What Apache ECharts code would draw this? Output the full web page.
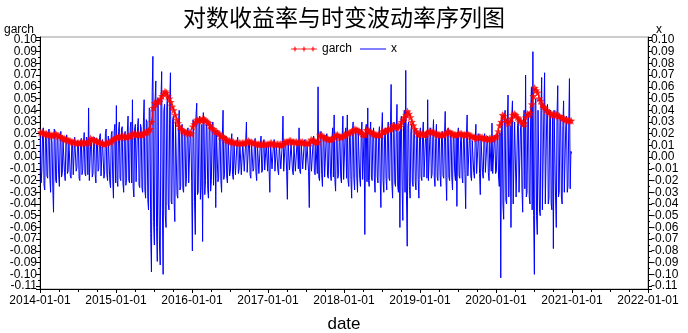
<!DOCTYPE html>
<html>
<head>
<meta charset="utf-8">
<title>对数收益率与时变波动率序列图</title>
<script src="https://cdn.jsdelivr.net/npm/echarts@6/dist/echarts.min.js"></script>
<style>
    html, body { margin: 0; padding: 0; background: #fff; }
    #main { width: 688px; height: 333px; }
</style>
</head>
<body>
<div id="main"></div>
<script>
//对数收益率 x（读图估计，每年104个，约半周一个）
var x2014 = [0.018,-0.022,-0.012,0.02,0.025,-0.024,-0.028,0.018,0.021,-0.016,
    -0.018,0.022,0.024,-0.018,-0.03,0.02,0.012,-0.026,-0.047,0.024,
    0.02,-0.02,-0.022,0.018,0.016,-0.015,-0.025,0.013,0.022,-0.017,
    -0.014,0.015,0.015,-0.013,-0.02,0.016,0.019,-0.014,-0.012,0.014,
    0.013,-0.016,-0.018,0.012,0.01,-0.015,-0.015,0.017,0.018,-0.012,
    -0.009,0.014,0.012,-0.018,-0.02,0.013,0.016,-0.015,-0.011,0.012,
    0.021,-0.014,-0.016,0.017,0.014,-0.015,0.042,-0.02,-0.019,0.015,
    0.011,-0.017,-0.014,0.013,0.017,-0.015,-0.022,0.016,0.012,-0.012,
    -0.01,0.017,0.02,-0.016,-0.017,0.015,0.015,-0.018,-0.012,0.02,
    0.024,-0.015,-0.02,0.018,0.018,-0.021,-0.026,0.019,0.022,-0.018,
    -0.035,0.022,0.028,-0.022];
var x2015 = [0.044,-0.02,-0.025,0.022,0.03,-0.018,-0.02,0.024,0.026,-0.022,
    -0.03,0.018,0.022,-0.024,-0.018,0.021,0.035,-0.02,-0.022,0.025,
    0.03,-0.022,0.049,-0.026,-0.034,0.024,0.028,-0.021,-0.02,0.026,
    0.033,-0.024,-0.026,0.028,0.025,-0.026,-0.03,0.03,0.049,-0.028,
    -0.035,0.032,0.03,-0.036,-0.045,0.042,0.04,-0.065,-0.098,0.055,
    0.086,-0.055,-0.075,0.048,0.065,-0.06,-0.089,0.05,0.05,-0.075,
    -0.092,0.048,0.073,-0.045,-0.1,0.04,0.045,-0.05,-0.06,0.042,
    0.055,-0.04,-0.045,0.046,0.072,-0.038,-0.04,0.032,0.035,-0.038,
    -0.055,0.03,0.03,-0.032,-0.035,0.027,0.04,-0.028,-0.025,0.025,
    0.028,-0.027,-0.03,0.022,0.02,-0.025,-0.018,0.021,0.025,-0.022,
    -0.022,0.02,0.018,-0.021];
var x2016 = [-0.08,0.032,0.02,-0.038,-0.066,0.036,0.046,-0.032,-0.03,0.03,
    0.035,-0.036,-0.025,0.028,-0.072,0.038,0.03,-0.032,-0.02,0.028,
    0.025,-0.027,-0.035,0.025,0.028,-0.029,-0.02,0.022,0.03,-0.024,
    -0.025,0.021,-0.043,0.022,0.022,-0.021,-0.018,0.018,0.02,-0.02,
    -0.03,0.017,0.04,-0.019,-0.015,0.016,0.018,-0.017,-0.022,0.015,
    0.015,-0.016,-0.012,0.014,0.02,-0.015,-0.019,0.013,0.014,-0.015,
    -0.015,0.012,0.017,-0.014,-0.01,0.012,0.012,-0.015,-0.016,0.013,
    0.013,-0.012,-0.012,0.014,0.03,-0.013,-0.012,0.012,0.015,-0.015,
    -0.018,0.013,0.012,-0.012,-0.01,0.014,0.016,-0.013,-0.02,0.012,
    0.012,-0.014,-0.013,0.012,0.018,-0.013,-0.011,0.012,0.015,-0.011,
    -0.01,0.012,0.012,-0.012];
var x2017 = [0.01,-0.011,-0.03,0.012,0.012,-0.01,-0.01,0.011,0.015,-0.012,
    -0.012,0.01,0.01,-0.011,-0.015,0.012,0.013,-0.01,-0.009,0.011,
    0.035,-0.012,-0.012,0.013,0.01,-0.012,-0.036,0.014,0.014,-0.011,
    -0.01,0.012,0.012,-0.011,-0.015,0.01,0.011,-0.012,-0.012,0.011,
    0.009,-0.01,0.025,-0.012,-0.014,0.011,0.012,-0.01,-0.01,0.012,
    0.015,-0.011,-0.012,0.01,0.01,-0.012,-0.043,0.013,0.013,-0.012,
    -0.012,0.011,0.018,-0.013,-0.015,0.012,0.012,-0.014,0.06,-0.017,
    -0.02,0.017,0.022,-0.015,-0.025,0.016,0.018,-0.017,-0.016,0.015,
    0.02,-0.016,-0.018,0.017,0.015,-0.015,-0.02,0.016,0.025,-0.017,
    0.036,-0.019,-0.029,0.017,0.02,-0.018,-0.015,0.016,0.018,-0.017,
    -0.022,0.018,0.035,-0.019];
var x2018 = [-0.02,0.019,0.025,-0.018,0.036,-0.02,-0.025,0.017,0.02,-0.019,
    -0.035,0.021,0.03,-0.018,-0.028,0.019,0.025,-0.017,-0.03,0.021,
    0.022,-0.018,-0.025,0.017,0.03,-0.019,-0.02,0.018,-0.066,0.024,
    0.028,-0.021,0.042,-0.02,-0.025,0.018,0.03,-0.017,-0.02,0.019,
    0.025,-0.017,-0.03,0.018,0.02,-0.017,-0.022,0.019,0.026,-0.018,
    -0.043,0.021,0.038,-0.02,-0.03,0.017,0.025,-0.018,-0.028,0.019,
    0.03,-0.018,-0.02,0.021,0.062,-0.022,-0.035,0.02,0.03,-0.022,
    -0.025,0.021,0.045,-0.025,-0.03,0.022,-0.06,0.027,0.035,-0.025,
    -0.054,0.027,0.04,-0.03,0.074,-0.033,-0.076,0.027,0.03,-0.025,
    -0.035,0.022,0.028,-0.021,-0.025,0.02,0.025,-0.021,-0.028,0.018,
    0.022,-0.019,-0.035,0.018];
var x2019 = [0.025,-0.017,-0.02,0.018,0.03,-0.017,-0.018,0.016,0.022,-0.018,
    0.049,-0.02,-0.02,0.017,0.025,-0.018,-0.015,0.017,0.032,-0.017,
    -0.025,0.016,0.028,-0.017,-0.02,0.018,0.02,-0.016,-0.025,0.017,
    0.022,-0.016,-0.018,0.017,0.039,-0.017,-0.037,0.02,0.025,-0.017,
    -0.02,0.016,0.022,-0.017,-0.028,0.016,0.018,-0.014,-0.02,0.017,
    -0.042,0.018,0.025,-0.016,-0.018,0.014,0.02,-0.017,-0.022,0.016,
    0.018,-0.014,-0.044,0.017,0.036,-0.016,-0.015,0.014,0.018,-0.016,
    -0.02,0.014,0.015,-0.013,-0.018,0.014,0.028,-0.014,-0.015,0.013,
    0.02,-0.014,-0.032,0.016,0.015,-0.013,-0.018,0.014,0.02,-0.013,
    -0.012,0.012,0.018,-0.013,-0.02,0.014,0.015,-0.012,0.029,-0.014,
    -0.015,0.013,0.018,-0.014];
var x2020 = [-0.012,0.015,0.02,-0.017,-0.025,0.021,-0.103,0.028,0.035,-0.04,
    -0.053,0.034,0.04,-0.037,-0.04,0.03,0.053,-0.034,-0.035,0.027,
    -0.06,0.034,0.048,-0.04,-0.04,0.03,0.03,-0.034,-0.035,0.027,
    0.032,-0.03,-0.03,0.025,0.028,-0.027,-0.047,0.03,0.04,-0.027,
    0.07,-0.034,-0.03,0.03,0.035,-0.034,-0.04,0.04,0.06,-0.045,
    0.09,-0.05,-0.1,0.045,0.05,-0.05,-0.066,0.04,0.04,-0.045,
    -0.05,0.04,0.068,-0.045,-0.045,0.04,0.072,-0.04,-0.04,0.037,
    0.045,-0.04,-0.035,0.034,0.04,-0.04,-0.045,0.034,-0.078,0.04,
    0.04,-0.034,-0.06,0.037,0.061,-0.034,-0.03,0.03,0.035,-0.034,
    -0.04,0.027,0.048,-0.03,-0.03,0.027,0.035,-0.03,-0.025,0.024,
    0.067,-0.027,0.005,0.003];

//garch 条件波动率（每年52个，按周）
var g2014 = [0.021,0.021,0.02,0.02,0.02,0.019,0.019,0.019,0.018,0.019,
    0.02,0.019,0.018,0.018,0.017,0.016,0.016,0.015,0.015,0.014,
    0.014,0.013,0.013,0.013,0.012,0.012,0.012,0.012,0.013,0.012,
    0.012,0.012,0.013,0.012,0.016,0.015,0.015,0.014,0.014,0.013,
    0.013,0.012,0.012,0.011,0.011,0.012,0.012,0.013,0.013,0.014,
    0.015,0.016];
var g2015 = [0.017,0.017,0.018,0.017,0.018,0.018,0.017,0.017,0.018,0.018,
    0.018,0.02,0.02,0.019,0.019,0.02,0.019,0.019,0.019,0.021,
    0.021,0.021,0.023,0.024,0.03,0.042,0.046,0.045,0.048,0.047,
    0.05,0.052,0.054,0.056,0.055,0.052,0.05,0.047,0.043,0.04,
    0.036,0.032,0.029,0.026,0.024,0.023,0.022,0.021,0.021,0.02,
    0.021,0.02];
var g2016 = [0.026,0.028,0.03,0.032,0.031,0.032,0.031,0.033,0.032,0.031,
    0.03,0.029,0.027,0.025,0.024,0.022,0.022,0.021,0.02,0.018,
    0.018,0.017,0.016,0.015,0.014,0.014,0.013,0.013,0.013,0.012,
    0.012,0.012,0.012,0.012,0.012,0.012,0.012,0.013,0.014,0.013,
    0.013,0.012,0.012,0.012,0.011,0.011,0.011,0.011,0.011,0.011,
    0.011,0.011];
var g2017 = [0.011,0.012,0.012,0.011,0.011,0.011,0.011,0.011,0.011,0.01,
    0.011,0.013,0.013,0.013,0.014,0.014,0.013,0.013,0.013,0.013,
    0.012,0.013,0.013,0.013,0.012,0.012,0.012,0.012,0.012,0.015,
    0.014,0.014,0.013,0.013,0.013,0.019,0.018,0.018,0.017,0.016,
    0.016,0.015,0.015,0.015,0.016,0.017,0.019,0.019,0.018,0.017,
    0.017,0.018];
var g2018 = [0.019,0.019,0.02,0.021,0.021,0.022,0.023,0.024,0.023,0.023,
    0.022,0.021,0.02,0.019,0.019,0.023,0.023,0.022,0.021,0.02,
    0.02,0.019,0.019,0.019,0.019,0.019,0.022,0.022,0.022,0.023,
    0.024,0.024,0.024,0.027,0.026,0.026,0.025,0.027,0.026,0.03,
    0.032,0.034,0.036,0.039,0.037,0.034,0.03,0.027,0.024,0.022,
    0.02,0.019];
var g2019 = [0.02,0.02,0.019,0.019,0.02,0.021,0.022,0.022,0.021,0.021,
    0.02,0.02,0.019,0.019,0.019,0.019,0.019,0.02,0.021,0.022,
    0.021,0.02,0.02,0.019,0.019,0.019,0.02,0.02,0.02,0.019,
    0.019,0.019,0.02,0.019,0.018,0.018,0.017,0.017,0.016,0.017,
    0.017,0.017,0.017,0.016,0.016,0.016,0.015,0.016,0.016,0.015,
    0.016,0.017];
var g2020 = [0.018,0.022,0.027,0.03,0.036,0.035,0.032,0.03,0.029,0.03,
    0.033,0.036,0.037,0.036,0.034,0.033,0.031,0.03,0.028,0.029,
    0.034,0.037,0.036,0.038,0.045,0.052,0.059,0.057,0.055,0.05,
    0.048,0.045,0.043,0.042,0.04,0.039,0.038,0.037,0.036,0.036,
    0.037,0.036,0.035,0.035,0.034,0.033,0.033,0.032,0.032,0.031,
    0.031,0.031];

var years = [2014, 2015, 2016, 2017, 2018, 2019, 2020];
var xByYear = [x2014, x2015, x2016, x2017, x2018, x2019, x2020];
var gByYear = [g2014, g2015, g2016, g2017, g2018, g2019, g2020];

//把每年的数据均匀放到小数年份的横轴上
function toPairs(list)
{
    var out = [];
    for (var k = 0; k < years.length; k++) {
        var arr = list[k];
        for (var j = 0; j < arr.length; j++) {
            out.push([years[k] + (j + 0.5) / arr.length, arr[j]]);
        }
    }
    return out;
}

//纵轴刻度只显示 0.01 的整数倍
function fmtY(v)
{
    var h = v * 100;
    if (Math.abs(h - Math.round(h)) > 1e-6) return '';
    if (Math.abs(v) < 1e-9) return '0.00';
    return v.toFixed(2);
}

var starPath = 'path://M0,-10L2.5,-3.5L9.5,-3.1L4,1.2L5.9,8.1L0,4.2L-5.9,8.1L-4,1.2L-9.5,-3.1L-2.5,-3.5Z';
//图例图标：带星号的红线、细蓝线（两角的极小点只用来撑开 8 像素高的边框）
var garchIcon = 'path://M0,0L0.01,0L0,0.01Z M0,8L0.01,8L0,7.99Z M0,3.5L26,3.5L26,4.5L0,4.5Z '
    + 'M4,1L4.9,3.1L7,4L4.9,4.9L4,7L3.1,4.9L1,4L3.1,3.1Z '
    + 'M13,1L13.9,3.1L16,4L13.9,4.9L13,7L12.1,4.9L10,4L12.1,3.1Z '
    + 'M22,1L22.9,3.1L25,4L22.9,4.9L22,7L21.1,4.9L19,4L21.1,3.1Z';
var xIcon = 'path://M0,0L0.01,0L0,0.01Z M0,8L0.01,8L0,7.99Z M0,3.5L26,3.5L26,4.5L0,4.5Z';
var labelFont = 'Liberation Sans, Arial, sans-serif';

function yAxisCfg(name, pos)
{
    return {
        type : 'value',
        position : pos,
        name : name,
        nameLocation : 'end',
        nameGap : 7,
        nameMoveOverlap : false,
        nameTextStyle : {
            color : '#000',
            fontSize : 12,
            fontFamily : labelFont,
            align : pos == 'left' ? 'right' : 'left',
            verticalAlign : 'middle',
            padding : pos == 'left' ? [0, 6, 0, 0] : [0, 0, 0, 8]
        },
        min : -0.1125,
        max : 0.1025,
        splitNumber : 21,
        axisLine : { show : true, lineStyle : { color : '#000' } },
        axisTick : { show : true, inside : false, length : 4, lineStyle : { color : '#000' } },
        minorTick : { show : true, splitNumber : 2, length : 2, lineStyle : { color : '#000' } },
        splitLine : { show : false },
        axisLabel : {
            color : '#000',
            fontSize : 12,
            fontFamily : labelFont,
            margin : 3,
            showMinLabel : true,
            showMaxLabel : true,
            formatter : fmtY
        }
    };
}

function drawChart()
{
    var myChart = echarts.init(document.getElementById('main'));
    var options =
    {
        backgroundColor : '#fff',
        animation : false,
        title : {
            text : '对数收益率与时变波动率序列图',
            left : 'center',
            top : 1,
            textStyle : {
                fontFamily : 'Noto Sans CJK SC',
                fontWeight : 'normal',
                fontSize : 23,
                color : '#000'
            }
        },
        legend : {
            top : 38,
            left : 'center',
            itemGap : 8,
            itemWidth : 26,
            itemHeight : 8,
            textStyle : { fontSize : 12, fontFamily : labelFont, color : '#000' },
            data : [
                { name : 'garch', icon : garchIcon },
                { name : 'x', icon : xIcon }
            ]
        },
        grid : {
            left : 40,
            right : 40,
            top : 37,
            bottom : 44,
            outerBoundsMode : 'none',
            containLabel : false,
            show : true,
            borderColor : '#999',
            borderWidth : 1
        },
        xAxis : [
        {
            type : 'value',
            name : 'date',
            nameLocation : 'middle',
            nameGap : 27,
            nameTextStyle : { fontSize : 17, fontFamily : labelFont, color : '#000' },
            min : 2014,
            max : 2022,
            interval : 1,
            axisLine : { show : true, onZero : false, lineStyle : { color : '#000' } },
            axisTick : { show : true, length : 4, lineStyle : { color : '#000' } },
            minorTick : { show : true, splitNumber : 4, length : 3, lineStyle : { color : '#000' } },
            splitLine : { show : false },
            axisLabel : {
                color : '#000',
                fontSize : 12,
                fontFamily : labelFont,
                margin : 6,
                formatter : function (v) { return v + '-01-01'; }
            }
        }],
        yAxis : [yAxisCfg('garch', 'left'), yAxisCfg('x', 'right')],
        series : [
        {
            name : 'x',
            type : 'line',
            yAxisIndex : 1,
            data : toPairs(xByYear),
            symbol : 'none',
            z : 2,
            lineStyle : { color : '#0000ff', width : 1 },
            itemStyle : { color : '#0000ff' }
        },
        {
            name : 'garch',
            type : 'line',
            yAxisIndex : 0,
            data : toPairs(gByYear),
            symbol : starPath,
            symbolSize : 8,
            showAllSymbol : true,
            z : 3,
            lineStyle : { color : '#ff0000', width : 1 },
            itemStyle : { color : '#ff0000', opacity : 0.8 }
        }]
    };
    myChart.setOption(options, true);
}

drawChart();
</script>
</body>
</html>
